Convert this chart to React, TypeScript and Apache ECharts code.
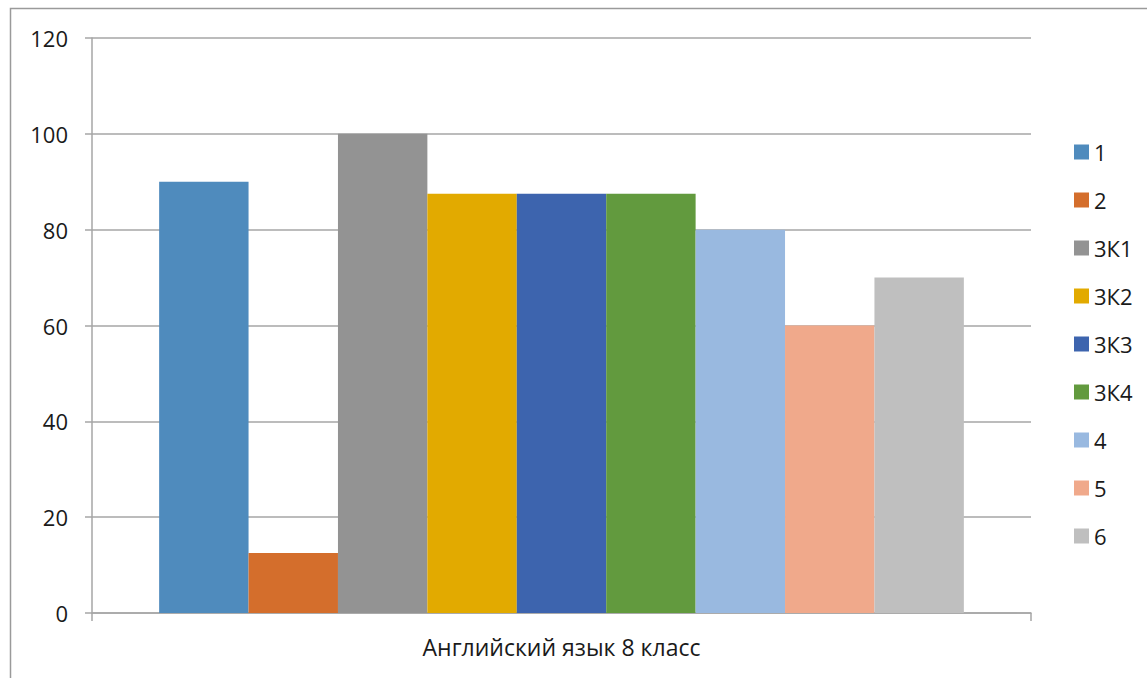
import React, { useEffect, useRef } from "react";
import * as echarts from "echarts";

const categories = ["Английский язык 8 класс"];
const seriesNames = ["1", "2", "3К1", "3К2", "3К3", "3К4", "4", "5", "6"];
const seriesValues = [90, 12.5, 100, 87.5, 87.5, 87.5, 80, 60, 70];
const colors = ["#4f8bbd", "#d46e2c", "#939393", "#e2aa00", "#3d64ae", "#629a3e", "#99b9e0", "#f0a98b", "#bfbfbf"];
const yTicks = { min: 0, max: 120, interval: 20 };

const FONT = "Open Sans";

export default function App() {
  const ref = useRef<HTMLDivElement>(null);
  useEffect(() => {
    document.body.style.margin = "0";
    const chart = echarts.init(ref.current!, null, { renderer: "svg" });
    chart.setOption({
      animation: false,
      backgroundColor: "#ffffff",
      grid: { left: 92, right: 116, top: 38, bottom: 65 },
      legend: {
        orient: "vertical",
        left: 1069,
        top: 136,
        itemWidth: 15,
        itemHeight: 15,
        itemGap: 26,
        icon: "rect",
        textStyle: { fontFamily: FONT, fontSize: 22, lineHeight: 22, color: "#1a1a1a" },
        data: seriesNames,
      },
      graphic: [
        {
          type: "rect",
          shape: { x: 10.5, y: 8.5, width: 1300, height: 800 },
          style: { fill: "none", stroke: "#9a9a9a", lineWidth: 1.5 },
          silent: true,
          z: -1,
        },
      ],
      xAxis: {
        type: "category",
        data: categories,
        axisLine: { show: true, lineStyle: { color: "#a6a6a6", width: 1.5 } },
        axisTick: { show: true, length: 8, lineStyle: { color: "#a6a6a6", width: 1.5 } },
        axisLabel: { fontFamily: FONT, fontSize: 23, color: "#1a1a1a", margin: 22 },
      },
      yAxis: {
        type: "value",
        min: yTicks.min,
        max: yTicks.max,
        interval: yTicks.interval,
        axisLine: { show: true, lineStyle: { color: "#a6a6a6", width: 1.5 } },
        axisTick: { show: true, length: 7, lineStyle: { color: "#a6a6a6", width: 1.5 } },
        splitLine: { show: true, lineStyle: { color: "#a6a6a6", width: 1.5 } },
        axisLabel: { fontFamily: FONT, fontSize: 22, color: "#1a1a1a", margin: 24 },
      },
      series: seriesNames.map((name, i) => ({
        name,
        type: "bar",
        data: [seriesValues[i]],
        itemStyle: { color: colors[i] },
        barGap: "0%",
        barCategoryGap: "14.3%",
      })),
    });
    return () => chart.dispose();
  }, []);
  return <div ref={ref} style={{ width: 1147, height: 678 }} />;
}
